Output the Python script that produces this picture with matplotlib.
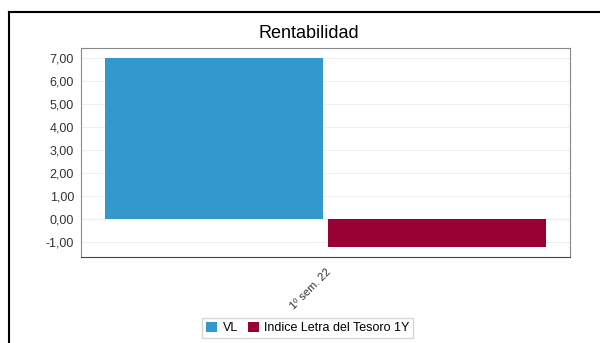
import matplotlib.pyplot as plt
from matplotlib.lines import Line2D
import numpy as np

plt.rcParams['font.family'] = ['Liberation Sans', 'DejaVu Sans']

categories = ["1º sem. 22"]
series_names = ["VL", "Indice Letra del Tesoro 1Y"]
vl = [7.00]
indice = [-1.23]
colors = ["#3399cc", "#990033"]

yticks = [-1, 0, 1, 2, 3, 4, 5, 6, 7]

fig = plt.figure(figsize=(6, 3.43), dpi=100)
ax = fig.add_axes([0.135, 0.251, 0.815, 0.609])

x = np.arange(len(categories))
w = 0.446
ax.bar(x - 0.228, vl, width=w, color=colors[0], label=series_names[0], zorder=3)
ax.bar(x + 0.228, indice, width=w, color=colors[1], label=series_names[1], zorder=3)

ax.set_xlim(-0.5, 0.5)
ax.set_ylim(-1.65, 7.43)
ax.set_yticks(yticks)
ax.set_yticklabels([f"{v:.2f}".replace(".", ",") for v in yticks], fontsize=9, color="#333333")
ax.set_xticks(x)
ax.set_xticklabels(categories, rotation=45, ha="right", rotation_mode="anchor",
                   fontsize=8, color="#333333")
ax.tick_params(axis="y", length=0, pad=5)
ax.tick_params(axis="x", length=0, pad=7)

ax.grid(axis="y", color="#f0f0f0", linewidth=0.8, zorder=0)
ax.axhline(0, color="#cccccc", linewidth=0.8, zorder=1)
for s in ["left", "top", "right"]:
    ax.spines[s].set_color("#888888")
ax.spines["bottom"].set_color("#444444")

fig.text(0.515, 0.903, "Rentabilidad", ha="center", va="center", fontsize=13)

fig.add_artist(Line2D([9 / 600, 1], [1 - 12 / 343] * 2, color="black", linewidth=1.5))
fig.add_artist(Line2D([9 / 600] * 2, [0, 1 - 12 / 343], color="black", linewidth=1.5))

h, l = ax.get_legend_handles_labels()
fig.legend(h, l, loc="center", bbox_to_anchor=(0.513, 0.044), ncol=2, fontsize=9,
           frameon=True, fancybox=False, edgecolor="#cccccc", handlelength=0.9,
           handleheight=0.9, handletextpad=0.4, columnspacing=0.8,
           borderpad=0.3)

fig.savefig("out.png", dpi=100)
